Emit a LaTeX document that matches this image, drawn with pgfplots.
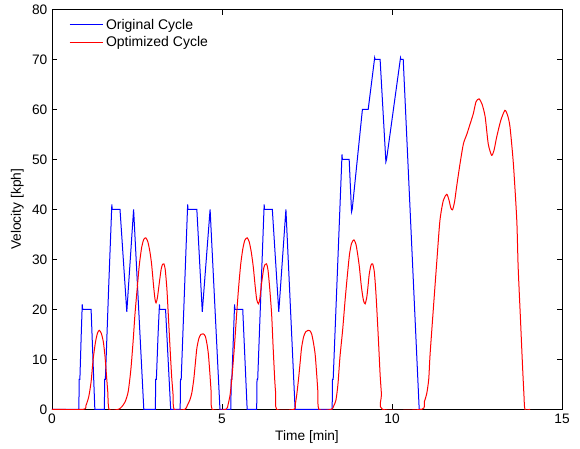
\documentclass[border=0pt]{standalone}
\usepackage{pgfplots}
\pgfplotsset{compat=1.18}
\usepackage{fontspec}
\setmainfont{Liberation Sans}
\begin{document}
\begin{tikzpicture}
\begin{axis}[%
    scale only axis,
    width=382.5pt, height=300pt,
    xmin=0, xmax=15,
    ymin=0, ymax=80,
    xtick={0,5,10,15},
    ytick={0,10,...,80},
    tick align=inside,
    major tick length=4pt,
    tick style={black, line width=0.5pt},
    axis line style={line width=0.6pt},
    ticklabel style={font=\fontsize{10.3}{12}\selectfont},
    /pgf/number format/assume math mode=true,
    xlabel={Time [min]},
    ylabel={Velocity [kph]},
    label style={font=\fontsize{10.3}{12}\selectfont},
    xlabel style={at={(axis description cs:0.5,-0.07)}, anchor=center},
    ylabel style={at={(axis description cs:-0.068,0.5)}, anchor=center},
    legend cell align=left,
    legend style={draw=none, fill=none, at={(0.025,0.99)}, anchor=north west,
      font=\fontsize{10.5}{12.5}\selectfont, row sep=0pt},
    legend image code/.code={\draw[#1] (0pt,0pt) -- (25pt,0pt);},
  ]
% Original cycle
\addplot[blue, line width=0.75pt, sharp plot] coordinates {
  (0,0) (0.79,0) (0.8,6) (0.82,6) (0.86,15) (0.89,21) (0.9,20) (1.15,20) (1.26,0)
  (1.54,0) (1.55,6) (1.57,6) (1.67,25) (1.76,41) (1.77,40) (2.0,40) (2.2,19.5) (2.4,40) (2.7,0)
  (3.04,0) (3.05,6) (3.07,6) (3.12,15) (3.16,21) (3.17,20) (3.34,20) (3.49,0)
  (3.77,0) (3.78,6) (3.8,6) (3.99,41) (4.0,40) (4.26,40) (4.42,19.5) (4.65,40) (4.94,0)
  (5.26,0) (5.27,6) (5.29,6) (5.37,21) (5.38,20) (5.61,20) (5.74,0)
  (6.02,0) (6.03,6) (6.05,6) (6.24,41) (6.25,40) (6.48,40) (6.67,19.5) (6.88,40) (7.15,0)
  (8.24,0) (8.25,6) (8.27,6) (8.53,51) (8.54,50) (8.74,50) (8.81,39.5) (8.83,40)
  (9.13,60) (9.3,60) (9.49,70.3) (9.5,70) (9.65,70) (9.82,49.5) (9.84,50)
  (10.25,70.3) (10.26,70) (10.33,70) (10.8,0) (10.85,0)
};
\addlegendentry{Original Cycle}
% Optimized cycle
\addplot[red, line width=0.75pt, smooth, tension=0.4] coordinates {
  (0,0) (0.92,0) (1.0,0.8) (1.08,2.5) (1.15,5.5) (1.21,10) (1.28,13.5) (1.34,15.3) (1.39,15.8)
  (1.45,15.2) (1.51,13.5) (1.56,10.5) (1.6,7) (1.64,3.5) (1.68,0)
  (1.95,0) (2.05,0.5) (2.15,1.5) (2.24,3.5) (2.32,8) (2.39,14) (2.44,19) (2.51,24.5) (2.57,29)
  (2.64,32.5) (2.7,34) (2.76,34.3) (2.82,33.5) (2.88,31.5) (2.93,29) (2.99,24.5) (3.03,22)
  (3.06,21.3) (3.1,22.3) (3.16,25.5) (3.21,28) (3.25,29) (3.29,29.1) (3.33,28) (3.38,24)
  (3.42,19) (3.47,12.5) (3.52,6.5) (3.56,3) (3.59,0)
  (3.91,0) (3.98,0.8) (4.05,1.8) (4.11,3.2) (4.17,6) (4.22,9.5) (4.26,12.2) (4.32,14.2)
  (4.38,15) (4.45,15.1) (4.51,14.6) (4.56,13) (4.6,11) (4.64,7.5) (4.68,3.5) (4.71,0)
  (5.12,0) (5.18,1) (5.24,3) (5.3,7) (5.37,13) (5.43,19) (5.49,24.5) (5.55,29) (5.61,32)
  (5.67,33.8) (5.74,34.3) (5.8,33.5) (5.86,31.5) (5.92,28.5) (5.97,25) (6.02,22) (6.07,21.1)
  (6.11,22) (6.17,25.5) (6.23,28.3) (6.27,29) (6.31,29.1) (6.35,28) (6.4,24.5) (6.46,19)
  (6.5,13) (6.55,6) (6.58,3) (6.61,0)
  (7.12,0) (7.16,1.2) (7.2,3) (7.25,6) (7.3,9.5) (7.34,12.3) (7.4,14.5) (7.46,15.5) (7.53,15.8)
  (7.59,15.7) (7.64,15) (7.69,13.3) (7.74,11) (7.78,7.5) (7.82,3.5) (7.85,0)
  (8.22,0) (8.28,0.6) (8.35,1.8) (8.41,5) (8.47,10.5) (8.55,16) (8.62,21.8) (8.69,27) (8.75,31)
  (8.81,33.2) (8.88,33.9) (8.94,33) (8.99,31) (9.04,28.5) (9.1,24.5) (9.16,21.8) (9.21,21.1)
  (9.26,22.5) (9.3,25) (9.33,27) (9.38,28.8) (9.43,29.1) (9.48,27.5) (9.52,24) (9.55,20.5)
  (9.6,14) (9.65,7) (9.69,3) (9.72,0)
  (10.87,0) (10.95,1.5) (11.02,3.1) (11.08,6) (11.12,11) (11.22,20.5) (11.32,29.8) (11.41,37.8)
  (11.51,41.8) (11.61,43) (11.67,42) (11.73,40.3) (11.78,39.9) (11.84,41.5) (11.9,44.5)
  (12.0,49.1) (12.1,53.1) (12.2,55) (12.27,56.5) (12.39,59.1) (12.47,61.5) (12.56,62.1)
  (12.65,61) (12.74,58.5) (12.83,53.1) (12.93,50.8) (13.0,51.8) (13.08,54.5) (13.2,57.8)
  (13.32,59.8) (13.4,58.8) (13.47,56.5) (13.57,49.1) (13.67,37.8) (13.71,28.5) (13.78,17.8)
  (13.84,8.5) (13.88,3) (13.91,0) (14.06,0)
};
\addlegendentry{Optimized Cycle}
\end{axis}
% page margins as in the reference
\path (current axis.south west) ++(-39pt,-28.5pt);
\path (current axis.north east) ++(13.5pt,7pt);
\end{tikzpicture}
\end{document}
